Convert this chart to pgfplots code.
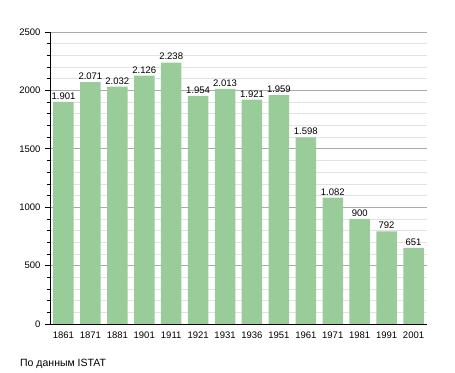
\documentclass[border=0pt]{standalone}
\usepackage{pgfplots}
\pgfplotsset{compat=1.18}
\usepackage{fontspec}
\setmainfont{Liberation Sans}
\definecolor{bargreen}{RGB}{153,204,153}
\definecolor{majgrid}{RGB}{170,170,170}
\definecolor{mingrid}{RGB}{226,226,226}
\begin{document}
\begin{tikzpicture}
\useasboundingbox (0,0) rectangle (455bp,373bp);
\begin{axis}[
  at={(50bp,49bp)}, anchor=south west,
  scale only axis, width=377bp, height=292bp,
  xmin=-0.5, xmax=13.5, ymin=0, ymax=2500,
  axis x line*=bottom, axis y line*=left,
  axis line style={-, black, line width=0.8bp},
  xtick=data,
  xticklabels={1861,1871,1881,1901,1911,1921,1931,1936,1951,1961,1971,1981,1991,2001},
  x tick style={draw=none},
  ytick={0,500,1000,1500,2000,2500},
  minor ytick={100,200,300,400,600,700,800,900,1100,1200,1300,1400,1600,1700,1800,1900,2100,2200,2300,2400},
  ymajorgrids, yminorgrids,
  major grid style={majgrid, line width=0.6bp},
  minor grid style={mingrid, line width=0.6bp},
  y tick style={black, line width=0.6bp},
  major tick length=5bp, minor tick length=3bp,
  tick align=outside,
  tick label style={font=\fontsize{9.5bp}{11bp}\selectfont},
  /pgf/number format/assume math mode=true,
  yticklabel style={/pgf/number format/1000 sep={}, xshift=-1bp},
  xticklabel style={yshift=1bp},
  ybar, bar width=20.5bp,
  nodes near coords,
  every node near coord/.append style={font=\fontsize{9.5bp}{11bp}\selectfont, /pgf/number format/1000 sep={.}, /pgf/number format/assume math mode=true, yshift=-1bp},
  clip=false,
]
\addplot[fill=bargreen, draw=none] coordinates {
(0,1901) (1,2071) (2,2032) (3,2126) (4,2238) (5,1954) (6,2013)
(7,1921) (8,1959) (9,1598) (10,1082) (11,900) (12,792) (13,651)};
\end{axis}
\node[anchor=west, inner sep=0pt, font=\fontsize{10.5bp}{12bp}\selectfont] at (20bp,9bp) {По данным ISTAT};
\end{tikzpicture}
\end{document}
